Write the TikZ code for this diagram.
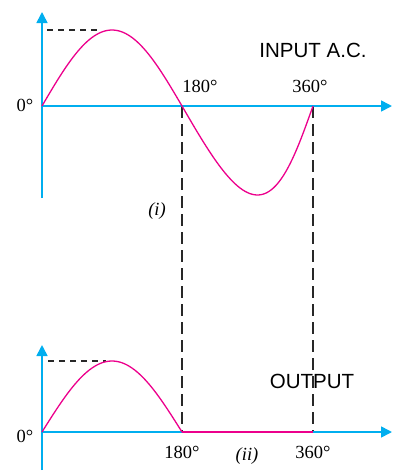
\documentclass[tikz,border=0pt]{standalone}
\usepackage{fontspec}
\setmainfont{Liberation Serif}
\newfontfamily\arialfont{Liberation Sans}
\usetikzlibrary{arrows.meta}
\definecolor{axiscyan}{RGB}{0,174,239}
\definecolor{wavemag}{RGB}{236,0,140}
\definecolor{dashgray}{RGB}{40,40,40}
\tikzset{
  axisline/.style={draw=axiscyan, line width=1.6pt, -{Triangle[length=11pt,width=11pt]}},
  wave/.style={draw=wavemag, line width=1.3pt},
  flatwave/.style={draw=wavemag, line width=2pt},
  guide/.style={draw=dashgray, line width=1.5pt, dash pattern=on 12pt off 6pt},
  peakguide/.style={draw=dashgray, line width=1.2pt, dash pattern=on 6pt off 5pt},
  deg/.style={font=\fontsize{18.5}{18.5}\selectfont, inner sep=0pt},
  caption/.style={font=\arialfont\fontsize{20.5}{20.5}\selectfont, inner sep=0pt},
  tag/.style={font=\itshape\fontsize{18.5}{18.5}\selectfont, inner sep=0pt},
}
\begin{document}
\begin{tikzpicture}[x=1pt,y=-1pt]
\useasboundingbox (0,0) rectangle (398,472);
% top graph coordinates
\coordinate (tyb) at (42,198);
\coordinate (tyt) at (42,12);
\coordinate (txl) at (42,106);
\coordinate (txr) at (392,106);
\coordinate (t180) at (182,106);
\coordinate (t360) at (313,106);
\coordinate (tpk) at (100,30);
\coordinate (tpl) at (47,30);
% bottom graph coordinates
\coordinate (byb) at (42,470);
\coordinate (byt) at (42,345);
\coordinate (bxl) at (42,432);
\coordinate (bxr) at (392,432);
\coordinate (b180) at (182,432);
\coordinate (b360) at (313,432);
\coordinate (bpk) at (106,361);
\coordinate (bpl) at (48,361);
% dashed guides
\draw[guide] (t180) -- (b180);
\draw[guide] (t360) -- (b360);
\draw[peakguide] (tpl) -- (tpk);
\draw[peakguide] (bpl) -- (bpk);
% axes
\draw[axisline] (tyb) -- (tyt);
\draw[axisline] (txl) -- (txr);
\draw[axisline] (byb) -- (byt);
\draw[axisline] (bxl) -- (bxr);
% input wave
\draw[wave] plot[domain=0:180, samples=60] ({42+\x/180*140},{106-76*sin(\x)});
\draw[wave] plot[domain=180:360, samples=60] ({182+(\x-180)/180*131 + 10*sin(\x-180)},{106-89*sin(\x)});
% output wave
\draw[wave] plot[domain=0:180, samples=60] ({42+\x/180*140},{432-71*sin(\x)});
\draw[flatwave] (b180) -- (b360);
% labels
\node[deg] (z1) at (25,105) {0°};
\node[deg] (z2) at (25,436) {0°};
\node[deg] (l1) at (200,86) {180°};
\node[deg] (l2) at (310,86) {360°};
\node[deg] (l3) at (182,452) {180°};
\node[deg] (l4) at (313,452) {360°};
\node[caption] (inp) at (313,50) {INPUT A.C.};
\node[caption] (outp) at (312,381) {OUTPUT};
\node[tag] (ti) at (157,211) {(\textit{i})};
\node[tag] (tii) at (247,456) {(\textit{ii})};
\end{tikzpicture}
\end{document}
